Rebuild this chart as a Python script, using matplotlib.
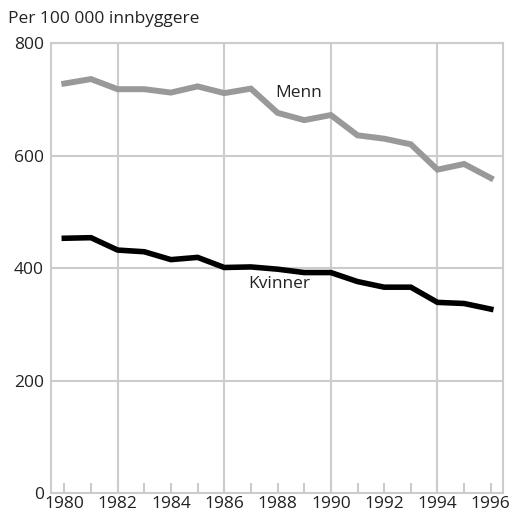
import numpy as np
import matplotlib.pyplot as plt

plt.rcParams['font.family'] = ['Open Sans', 'DejaVu Sans']

# data
years = list(range(1980, 1997))
menn = [728, 736, 718, 718, 712, 723, 711, 719, 676, 663, 672, 636, 630, 620, 575, 585, 560]
kvinner = [453, 454, 432, 429, 415, 419, 401, 402, 398, 392, 392, 376, 366, 366, 339, 337, 327]
grid_years = [1982, 1986, 1990, 1994]
y_ticks = [0, 200, 400, 600, 800]

grid_col = '#cccccc'
fs = 12.5

fig = plt.figure(figsize=(5.12, 5.19), dpi=100)
ax = fig.add_axes([0.0996, 0.050, 0.8824, 0.867])

for yr in grid_years:
    ax.axvline(yr, color=grid_col, lw=1.5, zorder=1)
for v in y_ticks[1:]:
    ax.axhline(v, color=grid_col, lw=1.5, zorder=1)

ax.plot(years, menn, color='#999999', lw=4.3, solid_joinstyle='miter', zorder=3)
ax.plot(years, kvinner, color='#000000', lw=4.0, solid_joinstyle='miter', zorder=3)

ax.text(1987.9, 711, 'Menn', fontsize=fs, color='#222222', va='center', ha='left')
ax.text(1986.9, 372, 'Kvinner', fontsize=fs, color='#222222', va='center', ha='left')

ax.set_xlim(1979.5, 1996.45)
ax.set_ylim(0, 800)

for s in ax.spines.values():
    s.set_color(grid_col)
    s.set_linewidth(1.5)

ax.set_xticks(years)
ax.set_xticklabels([str(y) if y % 2 == 0 else '' for y in years])
ax.set_yticks(y_ticks)
ax.tick_params(axis='x', direction='in', length=7, width=1.5, color=grid_col,
               labelsize=fs, pad=2, labelcolor='#222222')
ax.tick_params(axis='y', length=0, labelsize=fs, pad=5, labelcolor='#222222')

fig.text(0.016, 0.963, 'Per 100 000 innbyggere', fontsize=fs, color='#222222',
         va='center', ha='left')

fig.savefig('out.png', dpi=100)
